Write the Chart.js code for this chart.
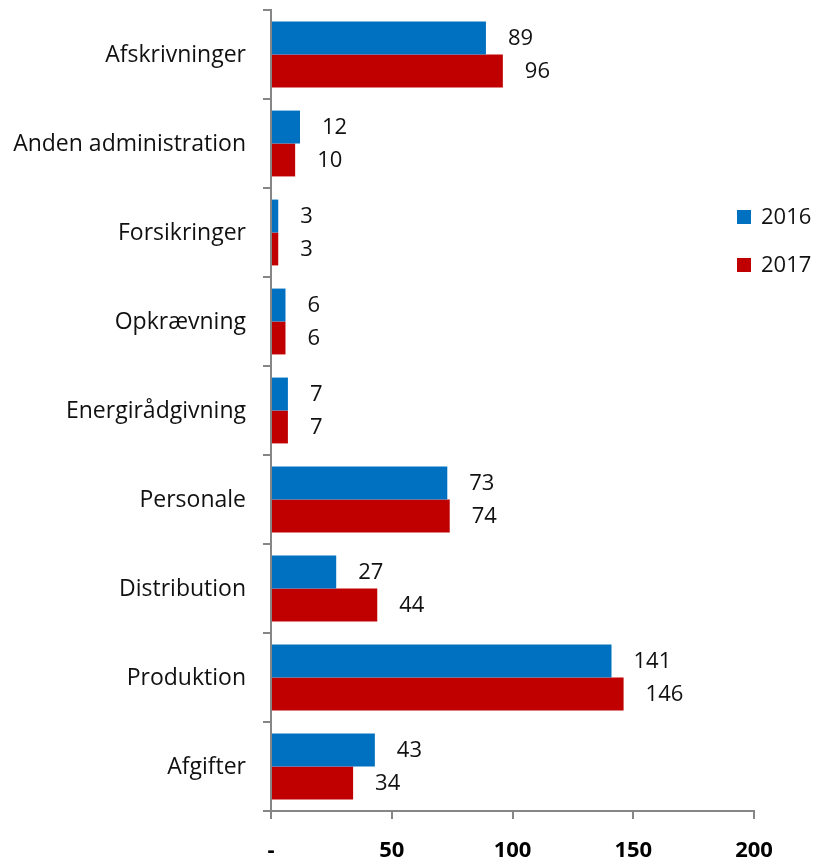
<!DOCTYPE html>
<html>
<head>
  <meta charset="UTF-8">
  <title>Omkostninger 2016-2017</title>
  <script src="https://cdn.jsdelivr.net/npm/chart.js"></script>
  <style>
    body { margin: 0; background: #fff; }
    #wrap { width: 813px; height: 859px; }
  </style>
</head>
<body>
  <div id="wrap"><canvas id="costChart" width="813" height="859"></canvas></div>

  <script>
    const categories = ['Afskrivninger', 'Anden administration', 'Forsikringer', 'Opkrævning',
      'Energirådgivning', 'Personale', 'Distribution', 'Produktion', 'Afgifter'];
    const values2016 = [89, 12, 3, 6, 7, 73, 27, 141, 43];
    const values2017 = [96, 10, 3, 6, 7, 74, 44, 146, 34];
    const xTicks = [0, 50, 100, 150, 200];

    const fontFamily = '"Open Sans", Lato, sans-serif';

    // value labels to the right of each bar
    const valueLabels = {
      id: 'valueLabels',
      afterDatasetsDraw(chart) {
        const ctx = chart.ctx;
        ctx.save();
        ctx.font = '22px ' + fontFamily;
        ctx.fillStyle = '#111';
        ctx.textAlign = 'left';
        ctx.textBaseline = 'middle';
        chart.data.datasets.forEach((ds, i) => {
          chart.getDatasetMeta(i).data.forEach((bar, j) => {
            ctx.fillText(ds.data[j], bar.x + 22, bar.y + 1);
          });
        });
        ctx.restore();
      }
    };

    // legend sits inside the right margin, like the original
    const sideLegend = {
      id: 'sideLegend',
      afterDraw(chart) {
        const ctx = chart.ctx;
        ctx.save();
        ctx.font = '22px ' + fontFamily;
        ctx.textBaseline = 'middle';
        chart.data.datasets.forEach((ds, i) => {
          const y = 217 + i * 48;
          ctx.fillStyle = ds.backgroundColor;
          ctx.fillRect(737, y - 7, 14, 14);
          ctx.fillStyle = '#111';
          ctx.fillText(ds.label, 761, y + 1);
        });
        ctx.restore();
      }
    };

    new Chart(document.getElementById('costChart'), {
      type: 'bar',
      data: {
        labels: categories,
        datasets: [
          { label: '2016', data: values2016, backgroundColor: '#0070C0' },
          { label: '2017', data: values2017, backgroundColor: '#C00000' }
        ]
      },
      options: {
        indexAxis: 'y',
        responsive: false,
        animation: false,
        layout: { padding: { top: 10, right: 59, left: 0, bottom: 0 } },
        datasets: { bar: { categoryPercentage: 0.74, barPercentage: 1.0 } },
        plugins: { legend: { display: false }, tooltip: { enabled: false } },
        scales: {
          x: {
            min: 0, max: 200,
            afterBuildTicks: s => { s.ticks = xTicks.map(v => ({ value: v })); },
            afterFit: s => { s.height = 48; },
            border: { color: '#868686', width: 2 },
            grid: { drawOnChartArea: false, color: '#868686', lineWidth: 2, tickLength: 8 },
            ticks: {
              padding: 19,
              color: '#000',
              font: { family: fontFamily, size: 22, weight: 'bold' },
              callback: v => v === 0 ? '-' : v
            }
          },
          y: {
            afterFit: s => { s.width = 271; s.paddingTop = 0; s.paddingBottom = 0; },
            border: { color: '#868686', width: 2 },
            grid: { drawOnChartArea: false, offset: true, color: '#868686', lineWidth: 2, tickLength: 8 },
            ticks: {
              padding: 17,
              labelOffset: 1,
              color: '#111',
              font: { family: fontFamily, size: 23 }
            }
          }
        }
      },
      plugins: [valueLabels, sideLegend]
    });
  </script>
</body>
</html>
